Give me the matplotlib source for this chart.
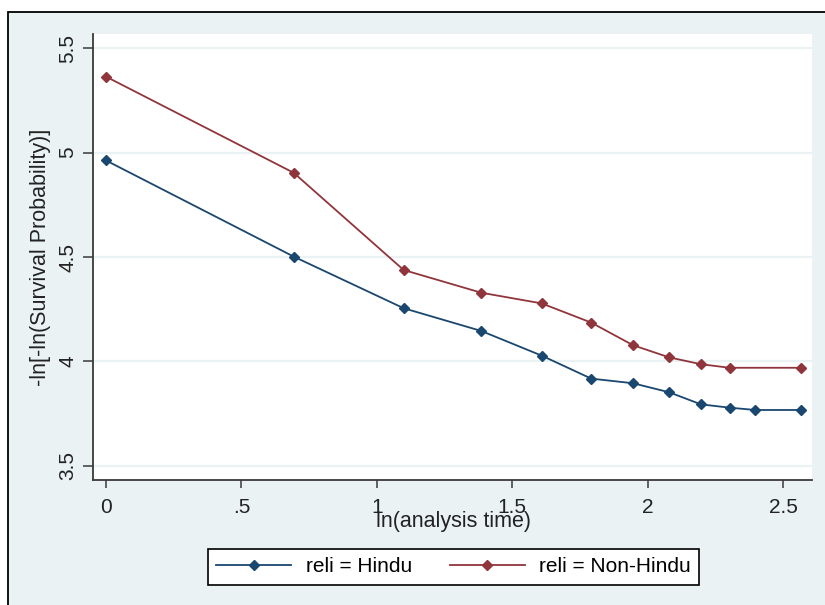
import matplotlib
matplotlib.use("Agg")
import matplotlib.pyplot as plt
from matplotlib.patches import Rectangle

# ---- data ----
hindu_x = [0.0, 0.693, 1.099, 1.386, 1.609, 1.792, 1.946, 2.079, 2.197, 2.303, 2.398, 2.565]
hindu_y = [4.962, 4.502, 4.255, 4.146, 4.028, 3.918, 3.896, 3.853, 3.795, 3.779, 3.768, 3.768]
nonhindu_x = [0.0, 0.693, 1.099, 1.386, 1.609, 1.792, 1.946, 2.079, 2.197, 2.303, 2.565]
nonhindu_y = [5.363, 4.903, 4.438, 4.329, 4.278, 4.186, 4.078, 4.020, 3.987, 3.970, 3.970]
x_ticks = [0, 0.5, 1, 1.5, 2, 2.5]
x_tick_labels = ["0", ".5", "1", "1.5", "2", "2.5"]
y_ticks = [3.5, 4, 4.5, 5, 5.5]
y_tick_labels = ["3.5", "4", "4.5", "5", "5.5"]
series_labels = ["reli = Hindu", "reli = Non-Hindu"]
x_title = "ln(analysis time)"
y_title = "-ln[-ln(Survival Probability)]"

NAVY = "#1A476F"
MAROON = "#90353B"
BG = "#EAF2F3"
W, H = 825, 605

plt.rcParams['font.family'] = ['Liberation Sans', 'DejaVu Sans']

fig = plt.figure(figsize=(W / 100, H / 100), dpi=100, facecolor="white")

# outer frame / graph region
frame = Rectangle((8 / W, -0.1), 1.2, 1 - 12 / H + 0.1,
                  transform=fig.transFigure, facecolor=BG,
                  edgecolor="black", linewidth=1.3, zorder=-10)
fig.patches.append(frame)

ax = fig.add_axes([93 / W, 1 - 480 / H, (812 - 93) / W, (480 - 34) / H])
ax.set_zorder(1)
ax.set_facecolor("white")

ax.plot(hindu_x, hindu_y, color=NAVY, lw=1.3, marker="D", ms=4.8,
        label=series_labels[0], zorder=3)
ax.plot(nonhindu_x, nonhindu_y, color=MAROON, lw=1.3, marker="D", ms=4.8,
        label=series_labels[1], zorder=3)

ax.set_xlim(-0.048, 2.607)
ax.set_ylim(3.433, 5.567)
ax.set_xticks(x_ticks)
ax.set_xticklabels(x_tick_labels)
ax.set_yticks(y_ticks)
ax.set_yticklabels(y_tick_labels, rotation=90, va="center")

ax.yaxis.grid(True, color=BG, lw=1.6, zorder=1)
ax.xaxis.grid(False)
ax.set_axisbelow(True)

for s in ["top", "right"]:
    ax.spines[s].set_visible(False)
for s in ["left", "bottom"]:
    ax.spines[s].set_color("#3a3a3a")
    ax.spines[s].set_linewidth(1.3)

ax.tick_params(axis="y", length=7.5, width=1.1, color="#3a3a3a",
               labelsize=15, labelcolor="#222222", pad=4)
ax.tick_params(axis="x", length=6, width=1.1, color="#3a3a3a",
               labelsize=15, labelcolor="#222222", pad=7)

ax.set_xlabel(x_title, fontsize=15.5, color="#222222", va="center")
ax.xaxis.set_label_coords(0.5007, -0.094)
ax.set_ylabel(y_title, fontsize=15.5, color="#222222", va="center")
ax.yaxis.set_label_coords(-0.0737, 0.5)

leg = fig.legend(loc="center", bbox_to_anchor=(453.5 / W, 1 - 567 / H),
                 ncol=2, fontsize=15, frameon=True, fancybox=False,
                 edgecolor="black", facecolor="white", framealpha=1,
                 borderpad=0.4, handlelength=3.6, handletextpad=0.7,
                 columnspacing=1.8, borderaxespad=0)
leg.get_frame().set_linewidth(1.2)
leg.set_zorder(2)

fig.savefig("out.png", dpi=100, facecolor="white")
